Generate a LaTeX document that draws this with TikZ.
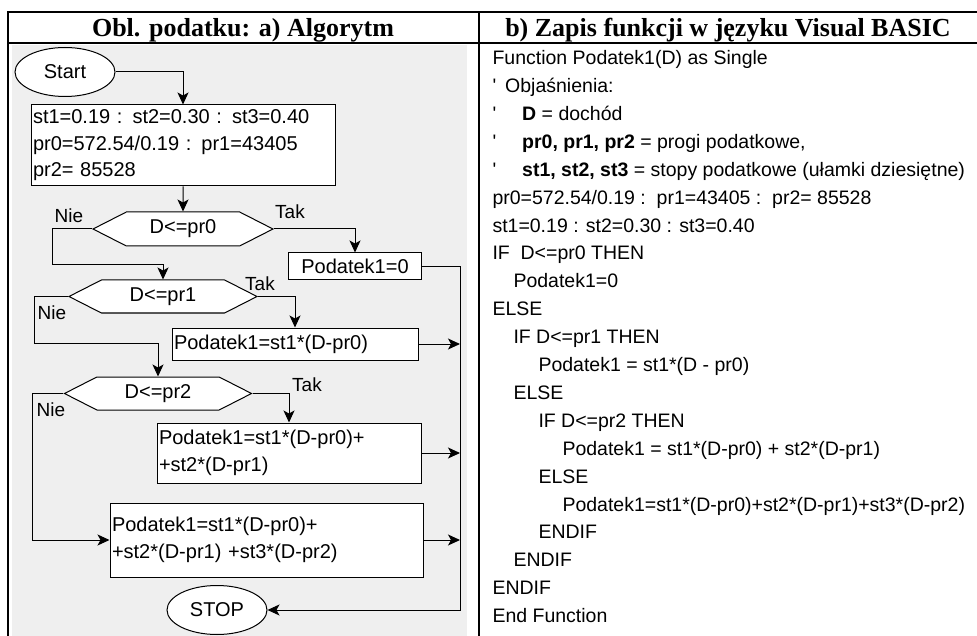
\documentclass[tikz,border=0pt]{standalone}
\usepackage{fontspec}
\newfontfamily\fcfont{Liberation Sans}
\newfontfamily\hdfont{Liberation Serif}
\usepackage{tikz}
\usetikzlibrary{arrows.meta,shapes.geometric,shapes.symbols,positioning,calc}
\definecolor{panelgray}{HTML}{EFEFEF}
\newcommand{\tick}{\symbol{39}}

\begin{document}
\begin{tikzpicture}[x=1pt,y=-1pt,>={Stealth[length=12pt,width=11pt,inset=3pt]},line width=1pt,
	every node/.style={font=\fcfont\fontsize{20}{26.5}\selectfont},
	term/.style={draw,ellipse,fill=white,minimum width=100pt,minimum height=49pt,inner sep=0pt},
	stepbox/.style={draw,fill=white,align=left,inner xsep=2pt,inner ysep=2pt},
	decide/.style={draw,fill=white,signal,signal to=west and east,signal pointer angle=54,inner sep=0pt},
	yesno/.style={font=\fcfont\fontsize{19}{22}\selectfont,inner sep=0pt},
	head/.style={font=\hdfont\bfseries\fontsize{26}{30}\selectfont,anchor=base,inner sep=0pt}]

				\useasboundingbox (0,0) rectangle (977,636);

				% table frame and grey panel
				\fill[panelgray] (12,45) rectangle (467,636);
				\draw[line width=1.5pt] (7,12) -- (977,12) (7,43) -- (977,43) (479,12) -- (479,636);
				\draw[line width=2.5pt] (8,12) -- (8,636);

				\node[head] (hdA) at (243,37) {Obl. podatku: a) Algorytm};
				\node[head] (hdB) at (728,37) {b) Zapis funkcji w języku Visual BASIC};

				% FLOWCHART

				\node[term] (start) at (65,72) {Start};
				\node[stepbox,text width=300pt,minimum height=81pt] (init) at (183,145.5) {st1=0.19 : st2=0.30 : st3=0.40\\pr0=572.54/0.19 : pr1=43405\\pr2= 85528};

				\node[decide,minimum width=180pt,minimum height=34pt] (q0) at (183,229) {D<=pr0};
				\node[stepbox,align=center,minimum width=133pt,minimum height=27pt] (z0) at (355,266.5) {Podatek1=0};

				\node[decide,minimum width=188pt,minimum height=33pt] (q1) at (163,296.5) {D<=pr1};
				\node[stepbox,text width=242pt,minimum height=32pt] (z1) at (295,344) {Podatek1=st1*(D-pr0)};

				\node[decide,minimum width=187pt,minimum height=33pt] (q2) at (158,393.5) {D<=pr2};
				\node[stepbox,text width=260pt,minimum height=60pt] (z2) at (289,453) {Podatek1=st1*(D-pr0)+\\+st2*(D-pr1)};

				\node[stepbox,text width=309pt,minimum height=74pt] (z3) at (266.5,540) {Podatek1=st1*(D-pr0)+\\+st2*(D-pr1) +st3*(D-pr2)};
				\node[term] (stop) at (217,610) {STOP};

				\node[yesno] (nie0) at (69,216) {Nie};
				\node[yesno] (tak0) at (290,212) {Tak};
				\node[yesno] (tak1) at (260,284) {Tak};
				\node[yesno] (nie1) at (52,313) {Nie};
				\node[yesno] (tak2) at (307,385) {Tak};
				\node[yesno] (nie2) at (51,410) {Nie};

				\coordinate (k0) at (52,265);
				\coordinate (k1) at (34,343);
				\coordinate (k2) at (32,540);
				\coordinate (rail) at (460,610);

				\draw[->] (start) -| (init);
				\draw[->] (init) -- (q0);
				\draw[->] (q0.east) -| (z0);
				\draw[->] (q0.west) -| (k0) -| (q1);
				\draw[->] (q1.east) -| (z1);
				\draw[->] (q1.west) -| (k1) -| (q2);
				\draw[->] (q2.east) -| (z2);
				\draw[->] (q2.west) -| (k2) -- (z3);
				\draw[->] (z0.east) -| (rail) -- (stop);
				\foreach \b in {z1,z2,z3}
					\draw[->] (\b.east) -- (\b.east -| rail);

				% VISUAL BASIC LISTING

				\node[anchor=north west,align=left,inner sep=0pt,font=\fcfont\fontsize{19.5}{27.9}\selectfont] (code) at (492,50) {%
					Function Podatek1(D) as Single\\
					\tick\hspace*{9pt}Objaśnienia:\\
					\tick\hspace*{26pt}\textbf{D} = dochód\\
					\tick\hspace*{26pt}\textbf{pr0, pr1, pr2} = progi podatkowe,\\
					\tick\hspace*{26pt}\textbf{st1, st2, st3} = stopy podatkowe (ułamki dziesiętne)\\
					pr0=572.54/0.19 :\ \ pr1=43405 :\ \ pr2= 85528\\
					st1=0.19 : st2=0.30 : st3=0.40\\
					IF\ \ D<=pr0 THEN\\
					\hspace*{21pt}Podatek1=0\\
					ELSE\\
					\hspace*{21pt}IF D<=pr1 THEN\\
					\hspace*{46pt}Podatek1 = st1*(D - pr0)\\
					\hspace*{21pt}ELSE\\
					\hspace*{46pt}IF D<=pr2 THEN\\
					\hspace*{70pt}Podatek1 = st1*(D-pr0) + st2*(D-pr1)\\
					\hspace*{46pt}ELSE\\
					\hspace*{70pt}Podatek1=st1*(D-pr0)+st2*(D-pr1)+st3*(D-pr2)\\
					\hspace*{46pt}ENDIF\\
					\hspace*{21pt}ENDIF\\
					ENDIF\\
					End Function};
			\end{tikzpicture}
\end{document}
